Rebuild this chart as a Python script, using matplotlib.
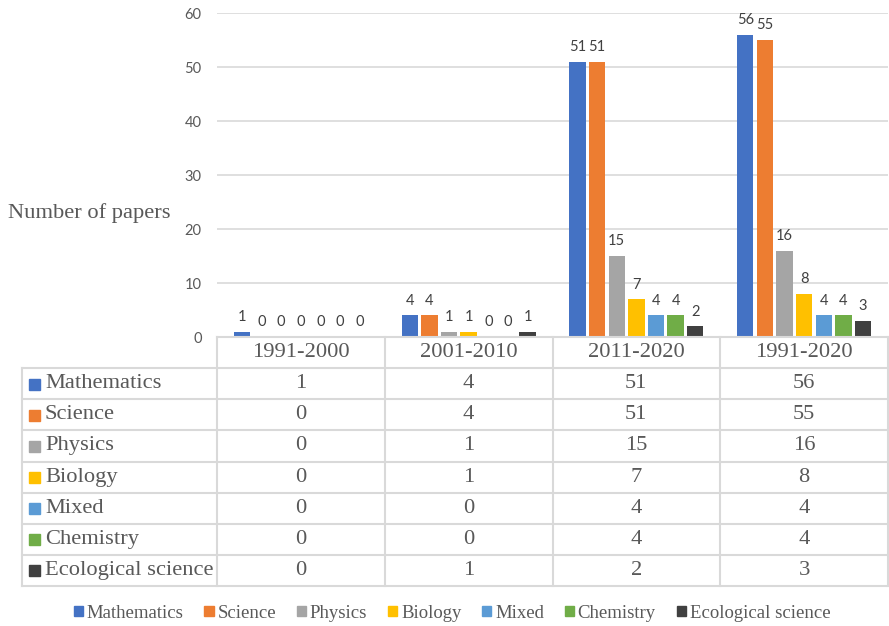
import numpy as np
import matplotlib
matplotlib.use("Agg")
import matplotlib.pyplot as plt
from matplotlib.patches import Rectangle, Patch

# Papers per discipline and period
periods = ["1991-2000", "2001-2010", "2011-2020", "1991-2020"]
subjects = ["Mathematics", "Science", "Physics", "Biology", "Mixed",
            "Chemistry", "Ecological science"]
counts = [
    [1, 4, 51, 56],   # Mathematics
    [0, 4, 51, 55],   # Science
    [0, 1, 15, 16],   # Physics
    [0, 1, 7, 8],     # Biology
    [0, 0, 4, 4],     # Mixed
    [0, 0, 4, 4],     # Chemistry
    [0, 1, 2, 3],     # Ecological science
]
colors = ["#4472C4", "#ED7D31", "#A5A5A5", "#FFC000", "#5B9BD5",
          "#70AD47", "#404040"]
yticks = [0, 10, 20, 30, 40, 50, 60]

W, H = 889, 626
fig = plt.figure(figsize=(W / 100, H / 100), dpi=100)

serif = "Liberation Serif"
sans = "Lato"
grid_c = "#d9d9d9"
txt_c = "#595959"

# chart area (pixel layout)
left, right, top, base = 217, 888, 13, 337
ax = fig.add_axes([left / W, 1 - base / H, (right - left) / W, (base - top) / H])

n = len(subjects)
slot = 0.117
bw = 0.097
x = np.arange(len(periods))
for j, (name, vals) in enumerate(zip(subjects, counts)):
    xs = x + (j - (n - 1) / 2) * slot
    ax.bar(xs, vals, width=bw, color=colors[j], zorder=3)
    for xb, v in zip(xs, vals):
        ax.annotate(str(v), (xb, v), xytext=(0, 5.5), textcoords="offset points",
                    ha="center", va="bottom", fontsize=10.5, family=sans,
                    color="#404040")

ax.set_xlim(-0.5, len(periods) - 0.5)
ax.set_ylim(0, 60)
ax.set_yticks(yticks)
ax.set_xticks([])
ax.yaxis.grid(True, color=grid_c, lw=1.2, zorder=0)
ax.tick_params(axis="y", length=0, pad=11, labelsize=10.5, labelcolor=txt_c)
for lab in ax.get_yticklabels():
    lab.set_family(sans)
for s in ax.spines.values():
    s.set_visible(False)

ax.set_ylabel("Number of papers", rotation=0, fontsize=16.2, family=serif,
              color=txt_c, ha="left", va="center")
ax.yaxis.set_label_coords((8 - left) / (right - left), (base - 213) / (base - top))

# data table below the chart, drawn in pixel units
t_left, t_bottom = 22, 586
axt = fig.add_axes([t_left / W, 1 - t_bottom / H, (right - t_left) / W, (t_bottom - base) / H])
axt.set_xlim(t_left, right)
axt.set_ylim(t_bottom, base)
axt.axis("off")

col_w = (right - left) / len(periods)
row_h = (t_bottom - base) / (n + 1)
lc = dict(color=grid_c, lw=1.5, clip_on=False)

# header row
axt.plot([left, right], [base, base], **lc)
for i, p in enumerate(periods):
    cx = left + (i + 0.5) * col_w
    axt.text(cx, base + row_h / 2, p, ha="center", va="center",
             fontsize=16.2, family=serif, color=txt_c)
for i in range(len(periods) + 1):
    xv = left + i * col_w
    axt.plot([xv, xv], [base, t_bottom], **lc)
axt.plot([t_left, t_left], [base + row_h, t_bottom], **lc)

# body rows
for r in range(n + 1):
    yv = base + (r + 1) * row_h
    axt.plot([t_left, right], [yv, yv], **lc)

for j, name in enumerate(subjects):
    cy = base + (j + 1.5) * row_h
    axt.add_patch(Rectangle((t_left + 7, cy - 5), 11, 11, color=colors[j], clip_on=False))
    axt.text(t_left + 23, cy, name, ha="left", va="center", fontsize=16.2,
             family=serif, color=txt_c)
    for i, v in enumerate(counts[j]):
        axt.text(left + (i + 0.5) * col_w, cy, str(v), ha="center", va="center",
                 fontsize=16.2, family=serif, color=txt_c)

# legend
handles = [Patch(color=c) for c in colors]
leg = fig.legend(handles, subjects, loc="center", ncol=n,
                 bbox_to_anchor=(452 / W, 1 - 613 / H), frameon=False,
                 prop={"family": serif, "size": 13.5},
                 handlelength=0.5, handleheight=0.5, handletextpad=0.2,
                 columnspacing=1.1)
for t in leg.get_texts():
    t.set_color(txt_c)

fig.savefig("out.png", dpi=100, facecolor="white")
